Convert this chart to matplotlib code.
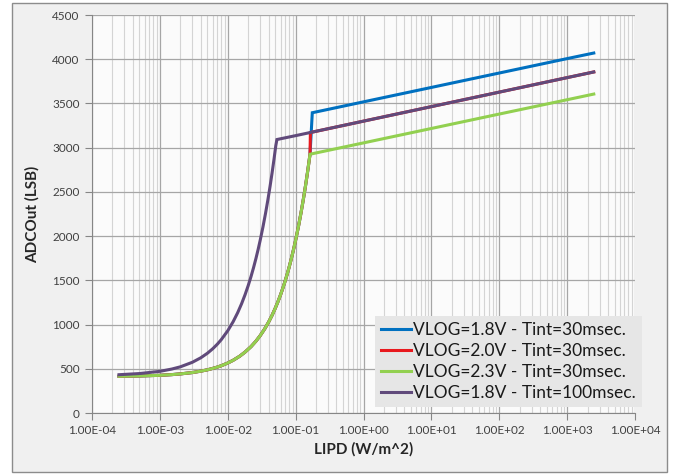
import matplotlib
matplotlib.use("Agg")
import matplotlib.pyplot as plt
from matplotlib.patches import Rectangle
from matplotlib.ticker import LogLocator, FixedLocator, NullFormatter, FuncFormatter

plt.rcParams["font.family"] = ["Lato", "DejaVu Sans"]

# values
lin_x = [2.5e-4, 5e-4, 1e-3, 1.5e-3, 2e-3, 3e-3, 4e-3, 5e-3, 6e-3, 7e-3, 8e-3,
         1e-2, 1.2e-2, 1.5e-2, 1.8e-2, 2.2e-2, 2.6e-2, 3e-2, 3.5e-2, 4e-2, 4.5e-2,
         5e-2, 5.5e-2, 6e-2, 6.5e-2, 7e-2, 7.5e-2, 8e-2, 8.5e-2, 9e-2, 9.5e-2,
         1e-1, 1.1e-1, 1.2e-1, 1.3e-1, 1.4e-1, 1.5e-1, 1.63e-1]
lin_y_30ms = [415, 419, 426, 434, 442, 457, 473, 488, 504, 519, 534,
              565, 596, 642, 689, 750, 812, 874, 951, 1028, 1105,
              1183, 1260, 1337, 1414, 1491, 1568, 1645, 1723, 1800, 1877,
              1954, 2108, 2263, 2417, 2571, 2726, 2926]

log_x = [1.0, 10.0, 100.0, 1000.0, 2470.0]

# VLOG=1.8V, Tint=30msec
blue_x = lin_x + [0.176] + log_x
blue_y = lin_y_30ms + [3395] + [3518, 3681, 3844, 4007, 4070]

# VLOG=2.0V, Tint=30msec
red_x = lin_x + [0.165] + log_x
red_y = lin_y_30ms + [3171] + [3300, 3464, 3628, 3792, 3856]

# VLOG=2.3V, Tint=30msec
green_x = lin_x + log_x
green_y = lin_y_30ms + [3054, 3217, 3380, 3542, 3606]

# VLOG=1.8V, Tint=100msec
purple_x = [2.5e-4, 5e-4, 1e-3, 1.5e-3, 2e-3, 3e-3, 4e-3, 5e-3, 6e-3, 7e-3, 8e-3,
            1e-2, 1.2e-2, 1.4e-2, 1.6e-2, 1.8e-2, 2e-2, 2.2e-2, 2.4e-2, 2.6e-2,
            2.8e-2, 3e-2, 3.3e-2, 3.6e-2, 3.9e-2, 4.2e-2, 4.5e-2, 4.8e-2, 5.1e-2,
            5.3e-2, 1e-1] + log_x
purple_y = [433, 446, 471, 497, 522, 573, 624, 675, 726, 777, 828,
            930, 1032, 1134, 1236, 1338, 1440, 1542, 1644, 1746,
            1848, 1950, 2103, 2256, 2409, 2562, 2715, 2868, 3021,
            3092, 3136] + [3300, 3464, 3628, 3792, 3856]

labels = ["VLOG=1.8V - Tint=30msec.", "VLOG=2.0V - Tint=30msec.",
          "VLOG=2.3V - Tint=30msec.", "VLOG=1.8V - Tint=100msec."]
colors = ["#0070C0", "#E8191E", "#92D050", "#604A7B"]

fig = plt.figure(figsize=(6.77, 4.74), dpi=100, facecolor="white")
border = Rectangle((12 / 677, 2 / 474), 655 / 677, 469 / 474,
                   transform=fig.transFigure, facecolor="#f0f0f0",
                   edgecolor="#8c8c8c", linewidth=1.0)
border.set_zorder(-10)
fig.add_artist(border)

ax = fig.add_axes([92 / 677, 1 - 413 / 474, 543 / 677, 398 / 474])
ax.set_zorder(1)
ax.set_facecolor("#fbfbfb")

series = [(blue_x, blue_y), (red_x, red_y), (green_x, green_y), (purple_x, purple_y)]
for (xs, ys), lab, col in zip(series, labels, colors):
    ax.plot(xs, ys, color=col, lw=2.2, label=lab, solid_joinstyle="miter")

ax.set_xscale("log")
ax.set_xlim(1e-4, 1e4)
ax.set_ylim(0, 4500)
ax.yaxis.set_major_locator(FixedLocator(range(0, 4501, 500)))
ax.xaxis.set_major_locator(LogLocator(base=10, numticks=20))
ax.xaxis.set_minor_locator(LogLocator(base=10, subs=range(2, 10), numticks=20))
ax.xaxis.set_minor_formatter(NullFormatter())
ax.xaxis.set_major_formatter(FuncFormatter(lambda v, p: "%.2E" % v))

ax.grid(which="major", axis="both", color="#a6a6a6", lw=0.9)
ax.grid(which="minor", axis="x", color="#d4d4d4", lw=0.8)
ax.set_axisbelow(True)

for s in ["top", "right"]:
    ax.spines[s].set_visible(False)
for s in ["left", "bottom"]:
    ax.spines[s].set_color("#868686")
ax.tick_params(axis="both", which="major", length=5, color="#868686",
               labelsize=8.5, labelcolor="#404040", pad=4)
ax.tick_params(axis="x", which="minor", length=0)

ax.set_xlabel("LIPD (W/m^2)", fontsize=11, fontweight="bold", color="#262626", labelpad=4)
ax.set_ylabel("ADCOut (LSB)", fontsize=11, fontweight="bold", color="#262626", labelpad=9)

leg = ax.legend(loc="lower right", bbox_to_anchor=(1.012, 0.015), fontsize=12.5,
                frameon=True, fancybox=False, handlelength=1.7, handletextpad=0.1,
                borderpad=0.35, labelspacing=0.28, borderaxespad=0)
leg.get_frame().set_facecolor("#e6e6e6")
leg.get_frame().set_edgecolor("none")
leg.get_frame().set_alpha(1)
for t in leg.get_texts():
    t.set_color("#1a1a1a")

fig.savefig("out.png", dpi=100)
